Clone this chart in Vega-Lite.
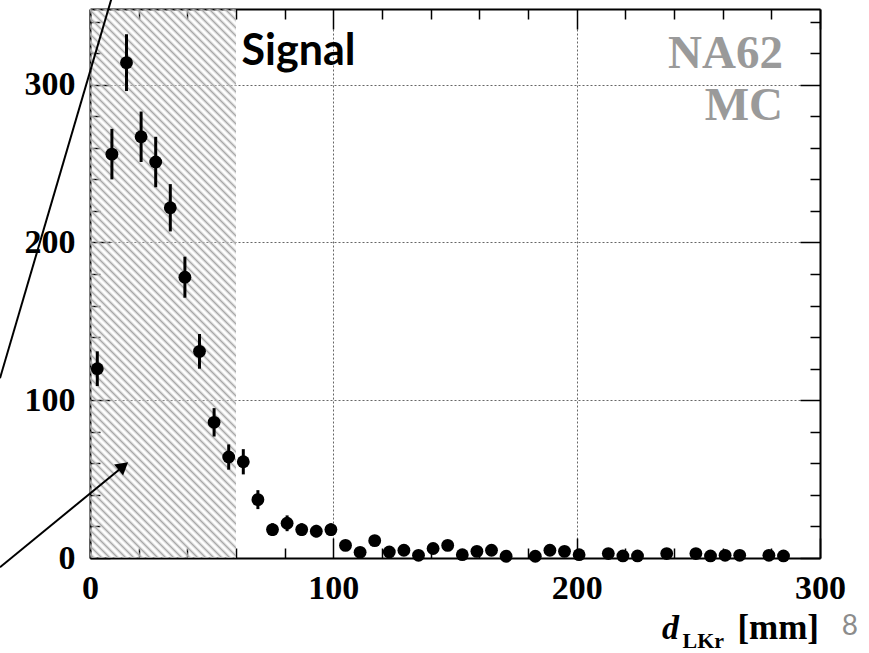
{
  "$schema": "https://vega.github.io/schema/vega-lite/v6.json",
  "width": 730,
  "height": 549,
  "autosize": {"type": "none"},
  "padding": {"left": 90, "top": 9, "right": 49, "bottom": 95},
  "background": "white",
  "config": {"view": {"stroke": null}},
  "datasets": {
    "hist": [
      {"d": 3, "n": 120, "lo": 109, "hi": 131},
      {"d": 9, "n": 256, "lo": 240, "hi": 272},
      {"d": 15, "n": 314, "lo": 296, "hi": 332},
      {"d": 21, "n": 267, "lo": 251, "hi": 283},
      {"d": 27, "n": 251, "lo": 235, "hi": 267},
      {"d": 33, "n": 222, "lo": 207, "hi": 237},
      {"d": 39, "n": 178, "lo": 165, "hi": 191},
      {"d": 45, "n": 131, "lo": 120, "hi": 142},
      {"d": 51, "n": 86, "lo": 77, "hi": 95},
      {"d": 57, "n": 64, "lo": 56, "hi": 72},
      {"d": 63, "n": 61, "lo": 53, "hi": 69},
      {"d": 69, "n": 37, "lo": 31, "hi": 43},
      {"d": 75, "n": 18, "lo": 14, "hi": 22},
      {"d": 81, "n": 22, "lo": 17, "hi": 27},
      {"d": 87, "n": 18, "lo": 14, "hi": 22},
      {"d": 93, "n": 17, "lo": 13, "hi": 21},
      {"d": 99, "n": 18, "lo": 14, "hi": 22},
      {"d": 105, "n": 8, "lo": 5.2, "hi": 10.8},
      {"d": 111, "n": 3.6, "lo": 1.7, "hi": 5.5},
      {"d": 117, "n": 11, "lo": 7.7, "hi": 14.3},
      {"d": 123, "n": 3.8, "lo": 1.9, "hi": 5.7},
      {"d": 129, "n": 4.9, "lo": 2.7, "hi": 7.1},
      {"d": 135, "n": 1.7, "lo": 0.4, "hi": 3},
      {"d": 141, "n": 6, "lo": 3.6, "hi": 8.4},
      {"d": 147, "n": 8, "lo": 5.2, "hi": 10.8},
      {"d": 153, "n": 2.1, "lo": 0.6, "hi": 3.6},
      {"d": 159, "n": 4.2, "lo": 2.2, "hi": 6.2},
      {"d": 165, "n": 4.9, "lo": 2.7, "hi": 7.1},
      {"d": 171, "n": 1.1, "lo": 0.1, "hi": 2.1},
      {"d": 183, "n": 1.1, "lo": 0.1, "hi": 2.1},
      {"d": 189, "n": 4.9, "lo": 2.7, "hi": 7.1},
      {"d": 195, "n": 4.2, "lo": 2.2, "hi": 6.2},
      {"d": 201, "n": 2.1, "lo": 0.6, "hi": 3.6},
      {"d": 213, "n": 2.8, "lo": 1.1, "hi": 4.5},
      {"d": 219, "n": 1.3, "lo": 0.2, "hi": 2.4},
      {"d": 225, "n": 1.3, "lo": 0.2, "hi": 2.4},
      {"d": 237, "n": 2.8, "lo": 1.1, "hi": 4.5},
      {"d": 249, "n": 2.8, "lo": 1.1, "hi": 4.5},
      {"d": 255, "n": 1.3, "lo": 0.2, "hi": 2.4},
      {"d": 261, "n": 1.7, "lo": 0.4, "hi": 3},
      {"d": 267, "n": 1.7, "lo": 0.4, "hi": 3},
      {"d": 279, "n": 1.7, "lo": 0.4, "hi": 3},
      {"d": 285, "n": 1.3, "lo": 0.2, "hi": 2.4}
    ],
    "cut": [{"from": 0, "to": 60}]
  },
  "layer": [
    {
      "data": {"name": "cut"},
      "mark": {
        "type": "rect",
        "color": {
          "gradient": "linear",
          "x1": 0, "y1": 1, "x2": 0.36193, "y2": -0.36096,
          "stops": [
            {"offset":0,"color":"rgba(255,255,255,0)"},{"offset":0.005,"color":"#a8a8a8"},
            {"offset":0.01,"color":"rgba(255,255,255,0)"},{"offset":0.015,"color":"#a8a8a8"},
            {"offset":0.02,"color":"rgba(255,255,255,0)"},{"offset":0.025,"color":"#a8a8a8"},
            {"offset":0.03,"color":"rgba(255,255,255,0)"},{"offset":0.035,"color":"#a8a8a8"},
            {"offset":0.04,"color":"rgba(255,255,255,0)"},{"offset":0.045,"color":"#a8a8a8"},
            {"offset":0.05,"color":"rgba(255,255,255,0)"},{"offset":0.055,"color":"#a8a8a8"},
            {"offset":0.06,"color":"rgba(255,255,255,0)"},{"offset":0.065,"color":"#a8a8a8"},
            {"offset":0.07,"color":"rgba(255,255,255,0)"},{"offset":0.075,"color":"#a8a8a8"},
            {"offset":0.08,"color":"rgba(255,255,255,0)"},{"offset":0.085,"color":"#a8a8a8"},
            {"offset":0.09,"color":"rgba(255,255,255,0)"},{"offset":0.095,"color":"#a8a8a8"},
            {"offset":0.10,"color":"rgba(255,255,255,0)"},{"offset":0.105,"color":"#a8a8a8"},
            {"offset":0.11,"color":"rgba(255,255,255,0)"},{"offset":0.115,"color":"#a8a8a8"},
            {"offset":0.12,"color":"rgba(255,255,255,0)"},{"offset":0.125,"color":"#a8a8a8"},
            {"offset":0.13,"color":"rgba(255,255,255,0)"},{"offset":0.135,"color":"#a8a8a8"},
            {"offset":0.14,"color":"rgba(255,255,255,0)"},{"offset":0.145,"color":"#a8a8a8"},
            {"offset":0.15,"color":"rgba(255,255,255,0)"},{"offset":0.155,"color":"#a8a8a8"},
            {"offset":0.16,"color":"rgba(255,255,255,0)"},{"offset":0.165,"color":"#a8a8a8"},
            {"offset":0.17,"color":"rgba(255,255,255,0)"},{"offset":0.175,"color":"#a8a8a8"},
            {"offset":0.18,"color":"rgba(255,255,255,0)"},{"offset":0.185,"color":"#a8a8a8"},
            {"offset":0.19,"color":"rgba(255,255,255,0)"},{"offset":0.195,"color":"#a8a8a8"},
            {"offset":0.20,"color":"rgba(255,255,255,0)"},{"offset":0.205,"color":"#a8a8a8"},
            {"offset":0.21,"color":"rgba(255,255,255,0)"},{"offset":0.215,"color":"#a8a8a8"},
            {"offset":0.22,"color":"rgba(255,255,255,0)"},{"offset":0.225,"color":"#a8a8a8"},
            {"offset":0.23,"color":"rgba(255,255,255,0)"},{"offset":0.235,"color":"#a8a8a8"},
            {"offset":0.24,"color":"rgba(255,255,255,0)"},{"offset":0.245,"color":"#a8a8a8"},
            {"offset":0.25,"color":"rgba(255,255,255,0)"},{"offset":0.255,"color":"#a8a8a8"},
            {"offset":0.26,"color":"rgba(255,255,255,0)"},{"offset":0.265,"color":"#a8a8a8"},
            {"offset":0.27,"color":"rgba(255,255,255,0)"},{"offset":0.275,"color":"#a8a8a8"},
            {"offset":0.28,"color":"rgba(255,255,255,0)"},{"offset":0.285,"color":"#a8a8a8"},
            {"offset":0.29,"color":"rgba(255,255,255,0)"},{"offset":0.295,"color":"#a8a8a8"},
            {"offset":0.30,"color":"rgba(255,255,255,0)"},{"offset":0.305,"color":"#a8a8a8"},
            {"offset":0.31,"color":"rgba(255,255,255,0)"},{"offset":0.315,"color":"#a8a8a8"},
            {"offset":0.32,"color":"rgba(255,255,255,0)"},{"offset":0.325,"color":"#a8a8a8"},
            {"offset":0.33,"color":"rgba(255,255,255,0)"},{"offset":0.335,"color":"#a8a8a8"},
            {"offset":0.34,"color":"rgba(255,255,255,0)"},{"offset":0.345,"color":"#a8a8a8"},
            {"offset":0.35,"color":"rgba(255,255,255,0)"},{"offset":0.355,"color":"#a8a8a8"},
            {"offset":0.36,"color":"rgba(255,255,255,0)"},{"offset":0.365,"color":"#a8a8a8"},
            {"offset":0.37,"color":"rgba(255,255,255,0)"},{"offset":0.375,"color":"#a8a8a8"},
            {"offset":0.38,"color":"rgba(255,255,255,0)"},{"offset":0.385,"color":"#a8a8a8"},
            {"offset":0.39,"color":"rgba(255,255,255,0)"},{"offset":0.395,"color":"#a8a8a8"},
            {"offset":0.40,"color":"rgba(255,255,255,0)"},{"offset":0.405,"color":"#a8a8a8"},
            {"offset":0.41,"color":"rgba(255,255,255,0)"},{"offset":0.415,"color":"#a8a8a8"},
            {"offset":0.42,"color":"rgba(255,255,255,0)"},{"offset":0.425,"color":"#a8a8a8"},
            {"offset":0.43,"color":"rgba(255,255,255,0)"},{"offset":0.435,"color":"#a8a8a8"},
            {"offset":0.44,"color":"rgba(255,255,255,0)"},{"offset":0.445,"color":"#a8a8a8"},
            {"offset":0.45,"color":"rgba(255,255,255,0)"},{"offset":0.455,"color":"#a8a8a8"},
            {"offset":0.46,"color":"rgba(255,255,255,0)"},{"offset":0.465,"color":"#a8a8a8"},
            {"offset":0.47,"color":"rgba(255,255,255,0)"},{"offset":0.475,"color":"#a8a8a8"},
            {"offset":0.48,"color":"rgba(255,255,255,0)"},{"offset":0.485,"color":"#a8a8a8"},
            {"offset":0.49,"color":"rgba(255,255,255,0)"},{"offset":0.495,"color":"#a8a8a8"},
            {"offset":0.50,"color":"rgba(255,255,255,0)"},{"offset":0.505,"color":"#a8a8a8"},
            {"offset":0.51,"color":"rgba(255,255,255,0)"},{"offset":0.515,"color":"#a8a8a8"},
            {"offset":0.52,"color":"rgba(255,255,255,0)"},{"offset":0.525,"color":"#a8a8a8"},
            {"offset":0.53,"color":"rgba(255,255,255,0)"},{"offset":0.535,"color":"#a8a8a8"},
            {"offset":0.54,"color":"rgba(255,255,255,0)"},{"offset":0.545,"color":"#a8a8a8"},
            {"offset":0.55,"color":"rgba(255,255,255,0)"},{"offset":0.555,"color":"#a8a8a8"},
            {"offset":0.56,"color":"rgba(255,255,255,0)"},{"offset":0.565,"color":"#a8a8a8"},
            {"offset":0.57,"color":"rgba(255,255,255,0)"},{"offset":0.575,"color":"#a8a8a8"},
            {"offset":0.58,"color":"rgba(255,255,255,0)"},{"offset":0.585,"color":"#a8a8a8"},
            {"offset":0.59,"color":"rgba(255,255,255,0)"},{"offset":0.595,"color":"#a8a8a8"},
            {"offset":0.60,"color":"rgba(255,255,255,0)"},{"offset":0.605,"color":"#a8a8a8"},
            {"offset":0.61,"color":"rgba(255,255,255,0)"},{"offset":0.615,"color":"#a8a8a8"},
            {"offset":0.62,"color":"rgba(255,255,255,0)"},{"offset":0.625,"color":"#a8a8a8"},
            {"offset":0.63,"color":"rgba(255,255,255,0)"},{"offset":0.635,"color":"#a8a8a8"},
            {"offset":0.64,"color":"rgba(255,255,255,0)"},{"offset":0.645,"color":"#a8a8a8"},
            {"offset":0.65,"color":"rgba(255,255,255,0)"},{"offset":0.655,"color":"#a8a8a8"},
            {"offset":0.66,"color":"rgba(255,255,255,0)"},{"offset":0.665,"color":"#a8a8a8"},
            {"offset":0.67,"color":"rgba(255,255,255,0)"},{"offset":0.675,"color":"#a8a8a8"},
            {"offset":0.68,"color":"rgba(255,255,255,0)"},{"offset":0.685,"color":"#a8a8a8"},
            {"offset":0.69,"color":"rgba(255,255,255,0)"},{"offset":0.695,"color":"#a8a8a8"},
            {"offset":0.70,"color":"rgba(255,255,255,0)"},{"offset":0.705,"color":"#a8a8a8"},
            {"offset":0.71,"color":"rgba(255,255,255,0)"},{"offset":0.715,"color":"#a8a8a8"},
            {"offset":0.72,"color":"rgba(255,255,255,0)"},{"offset":0.725,"color":"#a8a8a8"},
            {"offset":0.73,"color":"rgba(255,255,255,0)"},{"offset":0.735,"color":"#a8a8a8"},
            {"offset":0.74,"color":"rgba(255,255,255,0)"},{"offset":0.745,"color":"#a8a8a8"},
            {"offset":0.75,"color":"rgba(255,255,255,0)"},{"offset":0.755,"color":"#a8a8a8"},
            {"offset":0.76,"color":"rgba(255,255,255,0)"},{"offset":0.765,"color":"#a8a8a8"},
            {"offset":0.77,"color":"rgba(255,255,255,0)"},{"offset":0.775,"color":"#a8a8a8"},
            {"offset":0.78,"color":"rgba(255,255,255,0)"},{"offset":0.785,"color":"#a8a8a8"},
            {"offset":0.79,"color":"rgba(255,255,255,0)"},{"offset":0.795,"color":"#a8a8a8"},
            {"offset":0.80,"color":"rgba(255,255,255,0)"},{"offset":0.805,"color":"#a8a8a8"},
            {"offset":0.81,"color":"rgba(255,255,255,0)"},{"offset":0.815,"color":"#a8a8a8"},
            {"offset":0.82,"color":"rgba(255,255,255,0)"},{"offset":0.825,"color":"#a8a8a8"},
            {"offset":0.83,"color":"rgba(255,255,255,0)"},{"offset":0.835,"color":"#a8a8a8"},
            {"offset":0.84,"color":"rgba(255,255,255,0)"},{"offset":0.845,"color":"#a8a8a8"},
            {"offset":0.85,"color":"rgba(255,255,255,0)"},{"offset":0.855,"color":"#a8a8a8"},
            {"offset":0.86,"color":"rgba(255,255,255,0)"},{"offset":0.865,"color":"#a8a8a8"},
            {"offset":0.87,"color":"rgba(255,255,255,0)"},{"offset":0.875,"color":"#a8a8a8"},
            {"offset":0.88,"color":"rgba(255,255,255,0)"}
          ]
        }
      },
      "encoding": {
        "x": {"field": "from", "type": "quantitative", "scale": {"domain": [0, 300], "nice": false, "zero": false}, "axis": null},
        "x2": {"field": "to"},
        "y": {"datum": 0, "type": "quantitative", "scale": {"domain": [0, 348], "nice": false, "zero": false}, "axis": null},
        "y2": {"datum": 348}
      }
    },
    {
      "data": {"name": "hist"},
      "mark": {"type": "rule", "color": "black", "strokeWidth": 3},
      "encoding": {
        "x": {
          "field": "d", "type": "quantitative",
          "scale": {"domain": [0, 300], "nice": false, "zero": false},
          "axis": {
            "orient": "top", "title": null, "labels": false, "grid": false,
            "values": [0,20,40,60,80,100,120,140,160,180,200,220,240,260,280,300],
            "tickSize": {"condition": {"test": "datum.value % 100 === 0", "value": -20}, "value": -10},
            "tickColor": "black", "tickWidth": 1.5,
            "domainColor": "black", "domainWidth": 2
          }
        },
        "y": {
          "field": "lo", "type": "quantitative",
          "scale": {"domain": [0, 348], "nice": false, "zero": false},
          "axis": {
            "orient": "right", "title": null, "labels": false, "grid": false,
            "values": [0,20,40,60,80,100,120,140,160,180,200,220,240,260,280,300,320,340],
            "tickSize": {"condition": {"test": "datum.value % 100 === 0", "value": -20}, "value": -10},
            "tickColor": "black", "tickWidth": 1.5,
            "domainColor": "black", "domainWidth": 2
          }
        },
        "y2": {"field": "hi"}
      }
    },
    {
      "data": {"name": "hist"},
      "mark": {"type": "circle", "color": "black", "opacity": 1, "size": 165},
      "encoding": {
        "x": {
          "field": "d", "type": "quantitative",
          "scale": {"domain": [0, 300], "nice": false, "zero": false},
          "axis": {
            "orient": "bottom", "title": null,
            "values": [0,20,40,60,80,100,120,140,160,180,200,220,240,260,280,300],
            "labelExpr": "datum.value % 100 === 0 ? datum.label : ''",
            "labelFont": "Liberation Serif", "labelFontWeight": "bold", "labelFontSize": 34, "labelColor": "black",
            "labelPadding": 33, "labelFlush": false, "labelOverlap": false,
            "tickSize": {"condition": {"test": "datum.value % 100 === 0", "value": -20}, "value": -10},
            "tickColor": "black", "tickWidth": 1.5,
            "domainColor": "black", "domainWidth": 2,
            "grid": true, "gridColor": "#666666", "gridDash": [2, 2], "gridWidth": 1,
            "gridOpacity": {"condition": {"test": "datum.value === 100 || datum.value === 200", "value": 1}, "value": 0}
          }
        },
        "y": {
          "field": "n", "type": "quantitative",
          "scale": {"domain": [0, 348], "nice": false, "zero": false},
          "axis": {
            "orient": "left", "title": null,
            "values": [0,20,40,60,80,100,120,140,160,180,200,220,240,260,280,300,320,340],
            "labelExpr": "datum.value % 100 === 0 ? datum.label : ''",
            "labelFont": "Liberation Serif", "labelFontWeight": "bold", "labelFontSize": 34, "labelColor": "black",
            "labelPadding": 35, "labelFlush": false, "labelOverlap": false,
            "tickSize": {"condition": {"test": "datum.value % 100 === 0", "value": -20}, "value": -10},
            "tickColor": "black", "tickWidth": 1.5,
            "domainColor": "black", "domainWidth": 2,
            "grid": true, "gridColor": "#666666", "gridDash": [2, 2], "gridWidth": 1,
            "gridOpacity": {"condition": {"test": "datum.value === 100 || datum.value === 200 || datum.value === 300", "value": 1}, "value": 0}
          }
        }
      }
    },
    {
      "data": {"values": [{"note": "arrow1"}]},
      "mark": {"type": "rule", "color": "black", "strokeWidth": 2},
      "encoding": {
        "x": {"datum": -37, "type": "quantitative", "scale": {"domain": [0, 300], "nice": false, "zero": false}, "axis": null},
        "y": {"datum": 113.9, "type": "quantitative", "scale": {"domain": [0, 348], "nice": false, "zero": false}, "axis": null},
        "x2": {"datum": 11.06},
        "y2": {"datum": 366.3}
      }
    },
    {
      "data": {"values": [{"note": "arrow2"}]},
      "mark": {"type": "rule", "color": "black", "strokeWidth": 2},
      "encoding": {
        "x": {"datum": -37, "type": "quantitative", "scale": {"domain": [0, 300], "nice": false, "zero": false}, "axis": null},
        "y": {"datum": -5.9, "type": "quantitative", "scale": {"domain": [0, 348], "nice": false, "zero": false}, "axis": null},
        "x2": {"datum": 13.7},
        "y2": {"datum": 58.2}
      }
    },
    {
      "data": {"values": [{"note": "arrowhead"}]},
      "mark": {"type": "point", "shape": "triangle-up", "filled": true, "color": "black", "opacity": 1, "size": 200, "angle": 50.6},
      "encoding": {
        "x": {"datum": 13.7, "type": "quantitative", "scale": {"domain": [0, 300], "nice": false, "zero": false}, "axis": null},
        "y": {"datum": 58.2, "type": "quantitative", "scale": {"domain": [0, 348], "nice": false, "zero": false}, "axis": null}
      }
    },
    {
      "data": {"values": [{"label": "Signal"}]},
      "mark": {"type": "text", "font": "Lato", "fontWeight": "bold", "fontSize": 43, "color": "black", "align": "left", "baseline": "alphabetic"},
      "encoding": {
        "x": {"datum": 62.3, "type": "quantitative", "scale": {"domain": [0, 300], "nice": false, "zero": false}, "axis": null},
        "y": {"datum": 312.3, "type": "quantitative", "scale": {"domain": [0, 348], "nice": false, "zero": false}, "axis": null},
        "text": {"field": "label"}
      }
    },
    {
      "data": {"values": [{"label": "NA62"}]},
      "mark": {"type": "text", "font": "Liberation Serif", "fontWeight": "bold", "fontSize": 47, "color": "#9a9a9a", "align": "right", "baseline": "alphabetic"},
      "encoding": {
        "x": {"datum": 284.8, "type": "quantitative", "scale": {"domain": [0, 300], "nice": false, "zero": false}, "axis": null},
        "y": {"datum": 310.4, "type": "quantitative", "scale": {"domain": [0, 348], "nice": false, "zero": false}, "axis": null},
        "text": {"field": "label"}
      }
    },
    {
      "data": {"values": [{"label": "MC"}]},
      "mark": {"type": "text", "font": "Liberation Serif", "fontWeight": "bold", "fontSize": 47, "color": "#9a9a9a", "align": "right", "baseline": "alphabetic"},
      "encoding": {
        "x": {"datum": 284.8, "type": "quantitative", "scale": {"domain": [0, 300], "nice": false, "zero": false}, "axis": null},
        "y": {"datum": 277.4, "type": "quantitative", "scale": {"domain": [0, 348], "nice": false, "zero": false}, "axis": null},
        "text": {"field": "label"}
      }
    },
    {
      "data": {"values": [{"label": "d"}]},
      "mark": {"type": "text", "font": "Liberation Serif", "fontWeight": "bold", "fontStyle": "italic", "fontSize": 34, "color": "black", "align": "left", "baseline": "alphabetic"},
      "encoding": {
        "x": {"datum": 235.1, "type": "quantitative", "scale": {"domain": [0, 300], "nice": false, "zero": false}, "axis": null},
        "y": {"datum": -51.5, "type": "quantitative", "scale": {"domain": [0, 348], "nice": false, "zero": false}, "axis": null},
        "text": {"field": "label"}
      }
    },
    {
      "data": {"values": [{"label": "LKr"}]},
      "mark": {"type": "text", "font": "Liberation Serif", "fontWeight": "bold", "fontSize": 22, "color": "black", "align": "left", "baseline": "alphabetic"},
      "encoding": {
        "x": {"datum": 243.5, "type": "quantitative", "scale": {"domain": [0, 300], "nice": false, "zero": false}, "axis": null},
        "y": {"datum": -57.0, "type": "quantitative", "scale": {"domain": [0, 348], "nice": false, "zero": false}, "axis": null},
        "text": {"field": "label"}
      }
    },
    {
      "data": {"values": [{"label": "[mm]"}]},
      "mark": {"type": "text", "font": "Liberation Serif", "fontWeight": "bold", "fontSize": 35, "color": "black", "align": "right", "baseline": "alphabetic"},
      "encoding": {
        "x": {"datum": 299.6, "type": "quantitative", "scale": {"domain": [0, 300], "nice": false, "zero": false}, "axis": null},
        "y": {"datum": -51.5, "type": "quantitative", "scale": {"domain": [0, 348], "nice": false, "zero": false}, "axis": null},
        "text": {"field": "label"}
      }
    },
    {
      "data": {"values": [{"label": "8"}]},
      "mark": {"type": "text", "font": "Lato", "fontSize": 28, "color": "#8c8c8c", "align": "center", "baseline": "alphabetic"},
      "encoding": {
        "x": {"datum": 312.3, "type": "quantitative", "scale": {"domain": [0, 300], "nice": false, "zero": false}, "axis": null},
        "y": {"datum": -49, "type": "quantitative", "scale": {"domain": [0, 348], "nice": false, "zero": false}, "axis": null},
        "text": {"field": "label"}
      }
    }
  ],
  "resolve": {"axis": {"x": "independent", "y": "independent"}}
}
